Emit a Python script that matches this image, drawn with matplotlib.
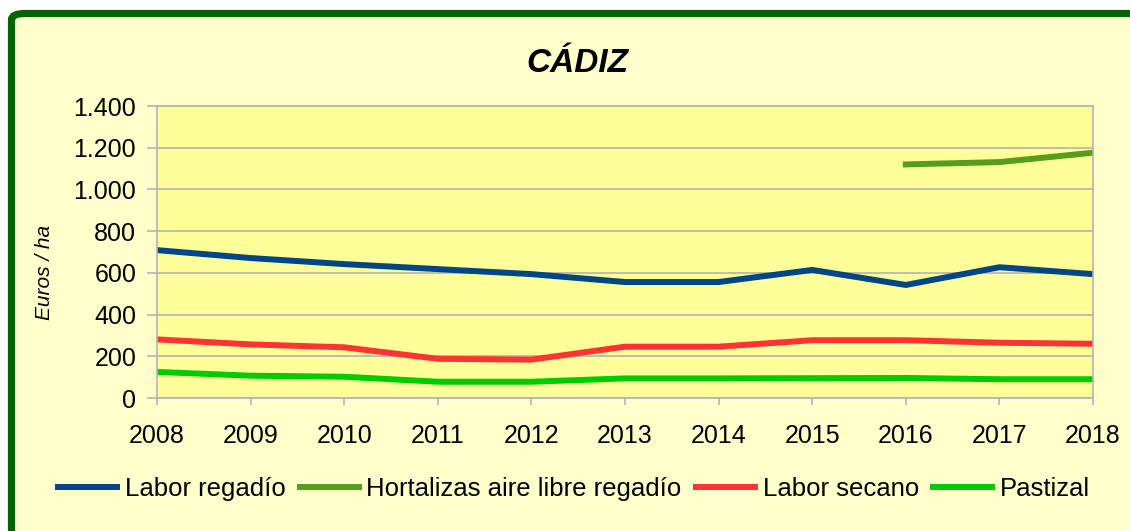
import matplotlib.pyplot as plt
from matplotlib.patches import FancyBboxPatch
from matplotlib.ticker import FuncFormatter

plt.rcParams['font.family'] = ['Liberation Sans', 'DejaVu Sans']

anios = [2008, 2009, 2010, 2011, 2012, 2013, 2014, 2015, 2016, 2017, 2018]
labor_regadio = [709, 671, 642, 618, 594, 556, 556, 614, 542, 627, 594]
hortalizas_anios = [2016, 2017, 2018]
hortalizas = [1120, 1131, 1176]
labor_secano = [281, 257, 243, 188, 184, 246, 246, 277, 277, 265, 260]
pastizal = [125, 107, 102, 78, 78, 94, 94, 95, 96, 90, 90]

fig = plt.figure(figsize=(11.3, 5.31), dpi=100)
fig.patch.set_facecolor('white')

# marco verde redondeado (se sale por la derecha y por abajo)
marco = FancyBboxPatch((11.5 / 1130, -0.1), 1.2, 1 - 13.5 / 531 + 0.1,
                       boxstyle='round,pad=0,rounding_size=0.012',
                       transform=fig.transFigure, facecolor='#ffffcc',
                       edgecolor='#006400', linewidth=5.2, zorder=-1)
fig.patches.append(marco)

ax = fig.add_axes([157 / 1130, 1 - 398 / 531, (1093 - 157) / 1130, (398 - 106) / 531])
ax.set_facecolor('#ffff99')

ax.plot(anios, labor_regadio, color='#004586', lw=4.3, label='Labor regadío')
ax.plot(hortalizas_anios, hortalizas, color='#579d1c', lw=4.3, label='Hortalizas aire libre regadío')
ax.plot(anios, labor_secano, color='#ff3333', lw=4.3, label='Labor secano')
ax.plot(anios, pastizal, color='#00cc00', lw=4.3, label='Pastizal')

ax.set_xlim(2008, 2018)
ax.set_ylim(0, 1400)
ax.set_xticks(anios)
ax.set_yticks(range(0, 1401, 200))
ax.yaxis.set_major_formatter(FuncFormatter(lambda v, p: f'{int(v):,}'.replace(',', '.')))
ax.grid(axis='y', color='#b3b3b3', lw=1.2)
ax.set_axisbelow(True)
for s in ax.spines.values():
    s.set_color('#b3b3b3')
    s.set_linewidth(1.2)
ax.tick_params(axis='both', colors='#b3b3b3', labelcolor='black', labelsize=18, width=1.2)
ax.tick_params(axis='y', length=7, pad=8)
ax.tick_params(axis='x', length=5, pad=14)

fig.text(45 / 1130, 1 - 272 / 531, 'Euros / ha', fontsize=15, style='italic',
         rotation=90, ha='center', va='center')
fig.text(577 / 1130, 1 - 63 / 531, 'CÁDIZ', fontsize=24, fontweight='bold', style='italic',
         ha='center', va='center')

fig.legend(loc='center', bbox_to_anchor=(574 / 1130, 1 - 489 / 531), ncol=4, frameon=False,
           fontsize=18.5, handlelength=2.3, handletextpad=0.3, columnspacing=0.55)

fig.savefig('out.png', dpi=100)
